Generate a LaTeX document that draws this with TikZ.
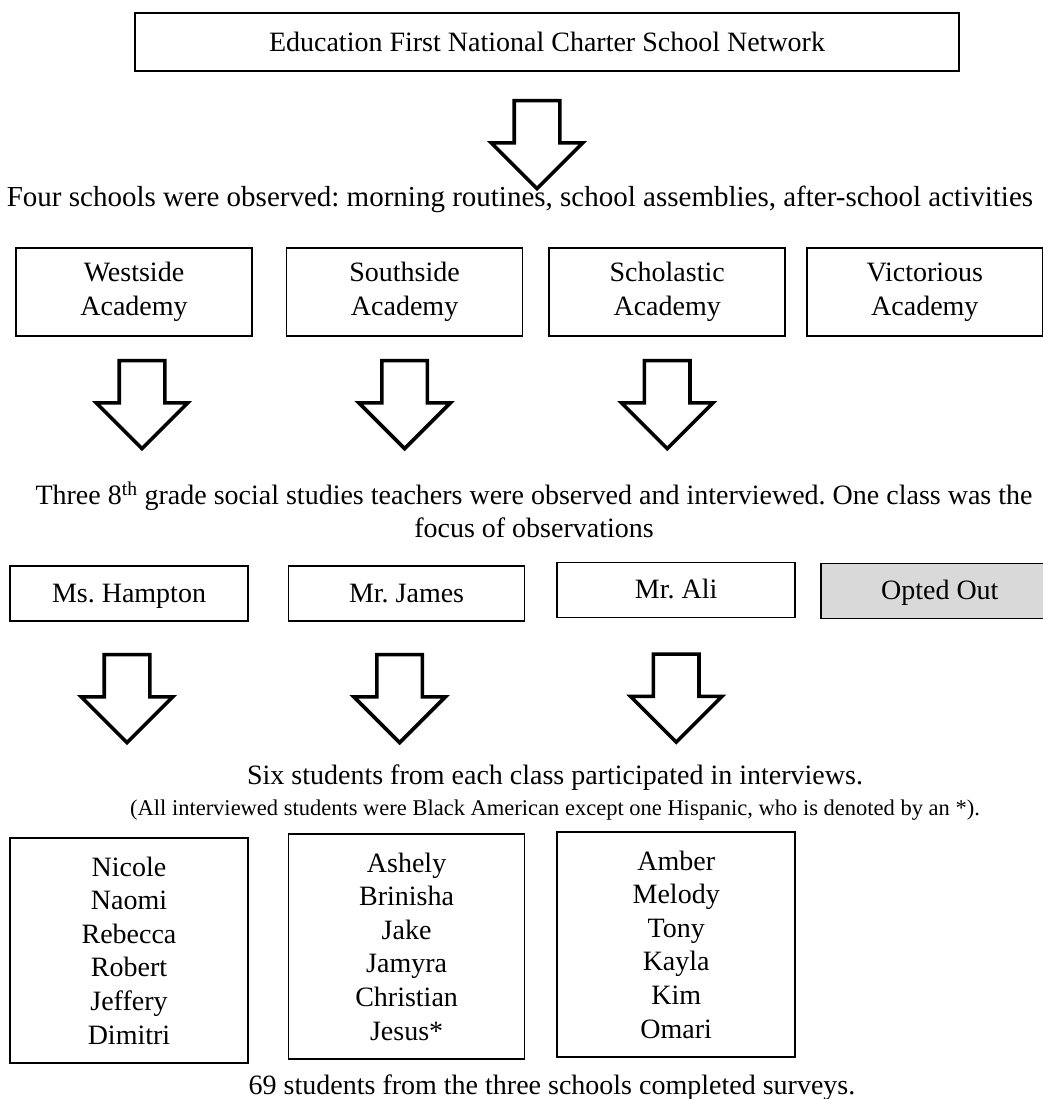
\documentclass[tikz,border=0pt]{standalone}
\usepackage{fontspec}
\setmainfont{Liberation Serif}
\usetikzlibrary{shapes.arrows,positioning}

\begin{document}
\frenchspacing
\begin{tikzpicture}[x=1pt, y=1pt,
    font=\fontsize{28}{33.6}\selectfont,
    block/.style={rectangle, draw, line width=1.6pt, align=center, inner sep=0pt, minimum width=238pt, minimum height=55pt},
    teacher/.style={block, text height=21pt, text depth=4pt},
    school/.style={block, minimum width=236pt, minimum height=88pt},
    roster/.style={block, minimum height=225pt},
    drop/.style={single arrow, draw, line width=3.6pt, shape border rotate=270, single arrow head extend=23pt, single arrow tip angle=90, minimum width=88pt, minimum height=88pt, inner sep=21pt},
    caption/.style={inner sep=0pt, align=center}]

    \useasboundingbox (0,0) rectangle (1042,-1099);

    % Network
    \node [block, minimum width=824pt, minimum height=58pt] (network) at (547,-42) {Education First National Charter School Network};
    \node [drop, below=27pt of network, xshift=-10pt] (netdrop) {};
    \node [caption, font=\fontsize{29}{34}\selectfont] (schools) at (520,-199) {Four schools were observed: morning routines, school assemblies, after-school activities};

    % Schools
    \node [school] (westside) at (134,-292) {Westside\\Academy};
    \node [school, right=33pt of westside] (southside) {Southside\\Academy};
    \node [school, right=25pt of southside] (scholastic) {Scholastic\\Academy};
    \node [school, right=20pt of scholastic] (victorious) {Victorious\\Academy};

    \node [drop, below=22pt of westside, xshift=8pt] (westdrop) {};
    \node [drop, below=22pt of southside] (southdrop) {};
    \node [drop, below=22pt of scholastic] (scholdrop) {};

    \node [caption] (teachers) at (534,-510) {Three 8\textsuperscript{th} grade social studies teachers were observed and interviewed. One class was the\\focus of observations};

    % Teachers
    \node [teacher] (hampton) at (129,-593.5) {Ms. Hampton};
    \node [teacher, minimum width=236pt, right=39pt of hampton] (james) {Mr. James};
    \node [teacher, right=31pt of james, yshift=3.5pt] (ali) {Mr. Ali};
    \node [teacher, fill=black!15, right=24pt of ali, yshift=-1pt] (optout) {Opted Out};

    \node [drop, below=31pt of hampton, xshift=-2pt] (hamptondrop) {};
    \node [drop, below=31pt of james, xshift=-7pt] (jamesdrop) {};
    \node [drop, below=34pt of ali] (alidrop) {};

    \node [caption] (interviews) at (555,-778) {Six students from each class participated in interviews.};
    \node [caption, font=\fontsize{22.5}{27}\selectfont] (hispanic) at (555,-810) {(All interviewed students were Black American except one Hispanic, who is denoted by an *).};

    % Students
    \node [roster] (hamptonclass) at (129,-950.5) {Nicole\\Naomi\\Rebecca\\Robert\\Jeffery\\Dimitri};
    \node [roster, minimum width=236pt, right=39pt of hamptonclass, yshift=4pt] (jamesclass) {Ashely\\Brinisha\\Jake\\Jamyra\\Christian\\Jesus*};
    \node [roster, right=31pt of jamesclass, yshift=2pt] (aliclass) {Amber\\Melody\\Tony\\Kayla\\Kim\\Omari};

    \node [caption] (surveys) at (552,-1088) {69 students from the three schools completed surveys.};

\end{tikzpicture}
\end{document}
